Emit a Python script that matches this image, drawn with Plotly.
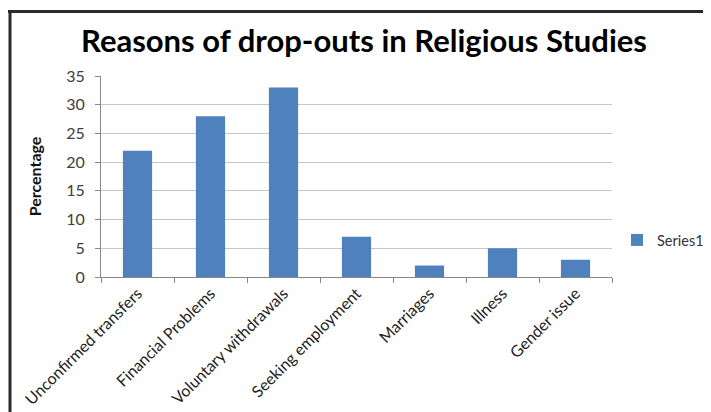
import plotly.graph_objects as go

categories = ["Unconfirmed transfers", "Financial Problems", "Voluntary withdrawals",
              "Seeking employment", "Marriages", "Illness", "Gender issue"]
values = [22, 28, 33, 7, 2, 5, 3]
y_ticks = [0, 5, 10, 15, 20, 25, 30, 35]

# the page body adds an 8px margin; work in reference pixels and subtract it
O = 8
W, H = 711 - O, 412 - O
L, T = 101 - O, 76 - O
pw, ph = 511, 201
R = W - L - pw
B = H - T - ph

def px(x):
    return (x - O - L) / pw

def py(y):
    return (T + ph - (y - O)) / ph

fig = go.Figure()
fig.add_trace(go.Bar(x=categories, y=values, name="Series1",
                     marker=dict(color="#4F81BD", line=dict(width=0)),
                     showlegend=True))

fig.update_layout(
    width=W, height=H,
    margin=dict(l=L, r=R, t=T, b=B, autoexpand=False),
    paper_bgcolor="white", plot_bgcolor="white",
    bargap=0.6,
    title=dict(text="<b>Reasons of drop-outs in Religious Studies</b>",
               x=(364 - O) / W, xanchor="center", y=1 - (41 - O) / H, yanchor="middle",
               font=dict(family="Lato", size=31, color="black")),
    font=dict(family="Lato", color="#333333"),
    showlegend=True,
    legend=dict(x=px(617), y=py(240), xanchor="left", yanchor="middle",
                font=dict(size=14.5, color="#333333"), bgcolor="rgba(0,0,0,0)",
                itemwidth=30),
    xaxis=dict(type="category", tickangle=-45, tickson="boundaries",
               ticks="outside", ticklen=5, tickcolor="#868686",
               showline=True, linecolor="#868686", linewidth=1,
               tickfont=dict(size=16, color="#222222"), showgrid=False),
    yaxis=dict(range=[0, 35], tickvals=y_ticks, ticks="outside", ticklen=5,
               tickcolor="#868686", showline=True, linecolor="#868686",
               gridcolor="#C6C6C6", gridwidth=1, zeroline=False,
               ticklabelstandoff=7,
               tickfont=dict(size=16, color="#404040"),
               title=dict(text="<b>Percentage</b>", standoff=20,
                          font=dict(size=16, color="#111111"))),
)

# border lines (top and left)
fig.add_shape(type="line", xref="paper", yref="paper",
              x0=px(8), x1=px(720), y0=py(11.5), y1=py(11.5),
              line=dict(color="#2a2a2a", width=3))
fig.add_shape(type="line", xref="paper", yref="paper",
              x0=px(10), x1=px(10), y0=py(10), y1=py(420),
              line=dict(color="#2a2a2a", width=3))

fig.write_html("out.html")
